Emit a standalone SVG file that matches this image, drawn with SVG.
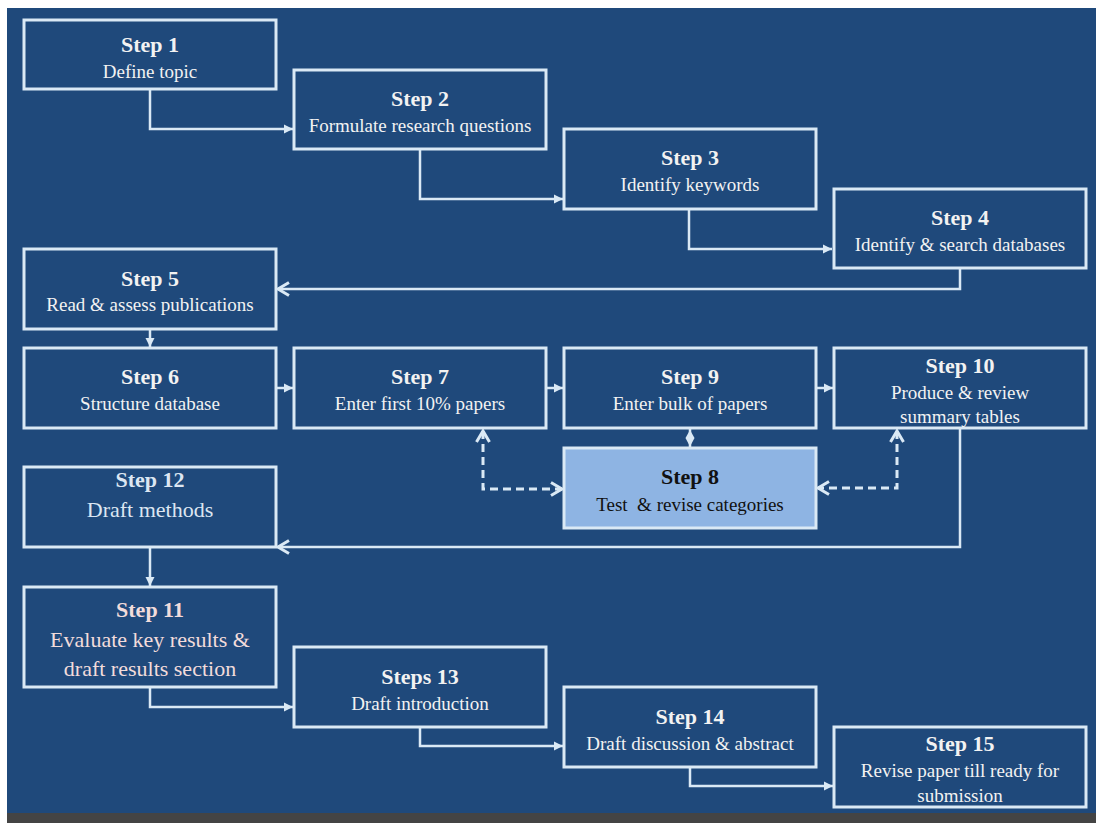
<svg xmlns="http://www.w3.org/2000/svg" width="1096" height="823" viewBox="0 0 1096 823">
<style>
.box{fill:#1F497B;stroke:#DAE9F5;stroke-width:3}
.hl{fill:#8EB4E3;stroke:#DAE9F5;stroke-width:3}
text{font-family:'Liberation Serif','Times New Roman','DejaVu Serif',serif}
.t{font-weight:bold;font-size:22px;fill:#F2F2F2;text-anchor:middle}
.s{font-size:19px;fill:#F2F2F2;text-anchor:middle}
.big{font-size:22px}
.dark{fill:#111111}
.pink{fill:#F2DCDB}
.lb{fill:#DCE6F2}
.c{fill:none;stroke:#DAE9F5;stroke-width:2.5}
.d{fill:none;stroke:#DAE9F5;stroke-width:3;stroke-dasharray:8 5}
</style>
<defs>
<marker id="sa" markerUnits="userSpaceOnUse" markerWidth="10" markerHeight="10" refX="9" refY="4.5" orient="auto" overflow="visible">
<path d="M0,0 L9,4.5 L0,9 z" fill="#DAE9F5"/>
</marker>
<marker id="oa" markerUnits="userSpaceOnUse" markerWidth="14" markerHeight="14" refX="11" refY="6.5" orient="auto-start-reverse" overflow="visible">
<path d="M0,0 L11,6.5 L0,13" fill="none" stroke="#DAE9F5" stroke-width="3"/>
</marker>
</defs>
<rect x="0" y="0" width="1096" height="823" fill="#FFFFFF"/>
<rect x="7" y="8" width="1089" height="805" fill="#1F497B"/>
<rect x="7" y="813" width="1089" height="10" fill="#444444"/>

<g id="connectors">
<path class="c" d="M150,89 V129 H293" marker-end="url(#sa)"/>
<path class="c" d="M420,149 V199 H563" marker-end="url(#sa)"/>
<path class="c" d="M689,209 V249 H832" marker-end="url(#sa)"/>
<path class="c" d="M960,268 V289 H278" marker-end="url(#oa)"/>
<path class="c" d="M150,329 V347" marker-end="url(#sa)"/>
<path class="c" d="M276,388 H293" marker-end="url(#sa)"/>
<path class="c" d="M546,388 H563" marker-end="url(#sa)"/>
<path class="c" d="M816,388 H833" marker-end="url(#sa)"/>
<path class="c" d="M690,428 V448"/>
<polygon points="690,430 694.5,438 690,446.5 685.5,438" fill="#DAE9F5"/>
<path class="d" d="M483,431 V489 H562" marker-start="url(#oa)" marker-end="url(#oa)"/>
<path class="d" d="M897,431 V488 H818" marker-start="url(#oa)" marker-end="url(#oa)"/>
<path class="c" d="M960,428 V547 H278" marker-end="url(#oa)"/>
<path class="c" d="M150,548 V586" marker-end="url(#sa)"/>
<path class="c" d="M150,688 V707 H293" marker-end="url(#sa)"/>
<path class="c" d="M420,727 V746 H563" marker-end="url(#sa)"/>
<path class="c" d="M690,767 V786 H833" marker-end="url(#sa)"/>
</g>

<g id="step1"><rect class="box" x="24" y="20" width="252" height="69"/>
<text class="t" x="150" y="52">Step 1</text><text class="s" x="150" y="78">Define topic</text></g>
<g id="step2"><rect class="box" x="294" y="70" width="252" height="79"/>
<text class="t" x="420" y="106">Step 2</text><text class="s" x="420" y="132">Formulate research questions</text></g>
<g id="step3"><rect class="box" x="564" y="129" width="252" height="80"/>
<text class="t" x="690" y="165">Step 3</text><text class="s" x="690" y="191">Identify keywords</text></g>
<g id="step4"><rect class="box" x="834" y="189" width="252" height="79"/>
<text class="t" x="960" y="225">Step 4</text><text class="s" x="960" y="251">Identify &amp; search databases</text></g>
<g id="step5"><rect class="box" x="24" y="249" width="252" height="80"/>
<text class="t" x="150" y="286">Step 5</text><text class="s" x="150" y="311">Read &amp; assess publications</text></g>
<g id="step6"><rect class="box" x="24" y="348" width="252" height="80"/>
<text class="t" x="150" y="384">Step 6</text><text class="s" x="150" y="410">Structure database</text></g>
<g id="step7"><rect class="box" x="294" y="348" width="252" height="80"/>
<text class="t" x="420" y="384">Step 7</text><text class="s" x="420" y="410">Enter first 10% papers</text></g>
<g id="step9"><rect class="box" x="564" y="348" width="252" height="80"/>
<text class="t" x="690" y="384">Step 9</text><text class="s" x="690" y="410">Enter bulk of papers</text></g>
<g id="step10"><rect class="box" x="834" y="348" width="252" height="80"/>
<text class="t" x="960" y="373">Step 10</text><text class="s" x="960" y="399">Produce &amp; review</text><text class="s" x="960" y="423">summary tables</text></g>
<g id="step8"><rect class="hl" x="564" y="448" width="252" height="80"/>
<text class="t dark" x="690" y="484">Step 8</text><text class="s dark" x="690" y="511" xml:space="preserve">Test  &amp; revise categories</text></g>
<g id="step12"><rect class="box" x="24" y="467" width="252" height="80"/>
<text class="t lb" x="150" y="487">Step 12</text><text class="s big lb" x="150" y="517">Draft methods</text></g>
<g id="step11"><rect class="box" x="24" y="587" width="252" height="100"/>
<text class="t pink" x="150" y="617">Step 11</text><text class="s big pink" x="150" y="647">Evaluate key results &amp;</text><text class="s big pink" x="150" y="676">draft results section</text></g>
<g id="step13"><rect class="box" x="294" y="647" width="252" height="80"/>
<text class="t" x="420" y="684">Steps 13</text><text class="s" x="420" y="710">Draft introduction</text></g>
<g id="step14"><rect class="box" x="564" y="687" width="252" height="80"/>
<text class="t" x="690" y="724">Step 14</text><text class="s" x="690" y="750">Draft discussion &amp; abstract</text></g>
<g id="step15"><rect class="box" x="834" y="727" width="252" height="80"/>
<text class="t" x="960" y="751">Step 15</text><text class="s" x="960" y="777">Revise paper till ready for</text><text class="s" x="960" y="802">submission</text></g>
</svg>
